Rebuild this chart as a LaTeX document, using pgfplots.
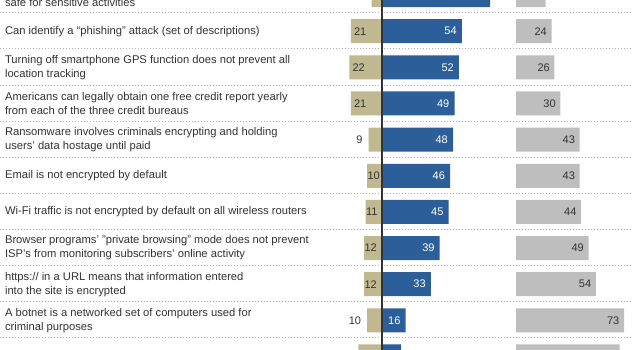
\documentclass[border=0pt]{standalone}
\usepackage{fontspec}
\setmainfont{Liberation Sans}
\usepackage{pgfplots}
\usepackage{pgfplotstable}
\pgfplotsset{compat=1.18}
\definecolor{ptan}{RGB}{191,184,144}
\definecolor{pblue}{RGB}{44,95,154}
\definecolor{pgray}{RGB}{190,190,190}
\definecolor{txt}{RGB}{51,51,51}
\definecolor{dots}{RGB}{180,180,180}

% row centre (pt from top), correct, don't know
\pgfplotstableread{
y blue gray
-4.94 73 20
31.20 54 24
67.34 52 26
103.48 49 30
139.62 48 43
175.76 46 43
211.90 45 44
248.04 39 49
284.18 33 54
320.32 16 73
356.46 13 70
}\main
% incorrect answers, wide bars, label inside
\pgfplotstableread{
y tan
31.20 21
67.34 22
103.48 21
356.46 16
}\tanwide
% incorrect answers, narrow bars, label inside
\pgfplotstableread{
y tan
175.76 10
211.90 11
248.04 12
284.18 12
}\tannarrow
% incorrect answers, label outside the bar
\pgfplotstableread{
y tan
-4.94 7
139.62 9
320.32 10
}\tanout

\begin{document}
\begin{tikzpicture}
\useasboundingbox (0,0) rectangle (633pt,350pt);
\clip (0,0) rectangle (633pt,350pt);
\begin{axis}[
  at={(0,-30pt)}, anchor=south west,
  scale only axis, width=633pt, height=410pt,
  xmin=-258.1, xmax=169.6, ymin=-30, ymax=380, y dir=reverse,
  axis line style={draw=none}, major tick length=0pt,
  xtick=\empty,
  ytick={-4.94,31.20,67.34,103.48,139.62,175.76,211.90,248.04,284.18,320.32},
  yticklabels={
    {Public Wi-Fi network is not necessarily\\safe for sensitive activities},
    {Can identify a “phishing” attack (set of descriptions)},
    {Turning off smartphone GPS function does not prevent all\\location tracking},
    {Americans can legally obtain one free credit report yearly\\from each of the three credit bureaus},
    {Ransomware involves criminals encrypting and holding\\users’ data hostage until paid},
    {Email is not encrypted by default},
    {Wi-Fi traffic is not encrypted by default on all wireless routers},
    {Browser programs’ "private browsing" mode does not prevent\\ISP’s from monitoring subscribers’ online activity},
    {https:// in a URL means that information entered\\into the site is encrypted},
    {A botnet is a networked set of computers used for\\criminal purposes}},
  yticklabel style={anchor=west, align=left, font=\fontsize{11.2}{14}\selectfont, text=txt, xshift=1.5pt},
  extra y ticks={12.7,48.9,85.0,121.1,157.3,193.4,229.6,265.7,301.8,337.8},
  extra y tick labels={},
  extra y tick style={grid=major},
  major grid style={dots, line width=0.9pt, dash pattern=on 0.9pt off 2.1pt},
  /pgf/number format/assume math mode=true,
]
\addplot[xbar, bar shift=0pt, bar width=24pt, fill=ptan, draw=none,
  point meta=explicit, nodes near coords,
  every node near coord/.append style={anchor=west, xshift=3pt, inner sep=0pt,
    font=\fontsize{11}{12}\selectfont, text=txt}]
  table[x expr=-\thisrow{tan}, y=y, meta=tan]{\tanwide};
\addplot[xbar, bar shift=0pt, bar width=24pt, fill=ptan, draw=none,
  point meta=explicit, nodes near coords,
  every node near coord/.append style={anchor=west, xshift=0.2pt, inner sep=0pt,
    font=\fontsize{11}{12}\selectfont, text=txt}]
  table[x expr=-\thisrow{tan}, y=y, meta=tan]{\tannarrow};
\addplot[xbar, bar shift=0pt, bar width=24pt, fill=ptan, draw=none,
  point meta=explicit, nodes near coords,
  every node near coord/.append style={anchor=east, xshift=-6pt, inner sep=0pt,
    font=\fontsize{11}{12}\selectfont, text=txt}]
  table[x expr=-\thisrow{tan}, y=y, meta=tan]{\tanout};
\addplot[xbar, bar shift=0pt, bar width=24pt, fill=pblue, draw=none,
  point meta=explicit, nodes near coords,
  every node near coord/.append style={anchor=east, xshift=-5pt, inner sep=0pt,
    font=\fontsize{11}{12}\selectfont, text=white}]
  table[x=blue, y=y, meta=blue]{\main};
\draw[txt, line width=1.3pt] (axis cs:0,-30) -- (axis cs:0,380);
\end{axis}
\begin{axis}[
  at={(0,-30pt)}, anchor=south west,
  scale only axis, width=633pt, height=410pt,
  xmin=-348.64, xmax=79.06, ymin=-30, ymax=380, y dir=reverse,
  hide axis,
  /pgf/number format/assume math mode=true,
]
\addplot[xbar, bar shift=0pt, bar width=24pt, fill=pgray, draw=none,
  point meta=explicit, nodes near coords,
  every node near coord/.append style={anchor=east, xshift=-4.5pt, inner sep=0pt,
    font=\fontsize{11}{12}\selectfont, text=txt}]
  table[x=gray, y=y, meta=gray]{\main};
\end{axis}
\end{tikzpicture}
\end{document}
